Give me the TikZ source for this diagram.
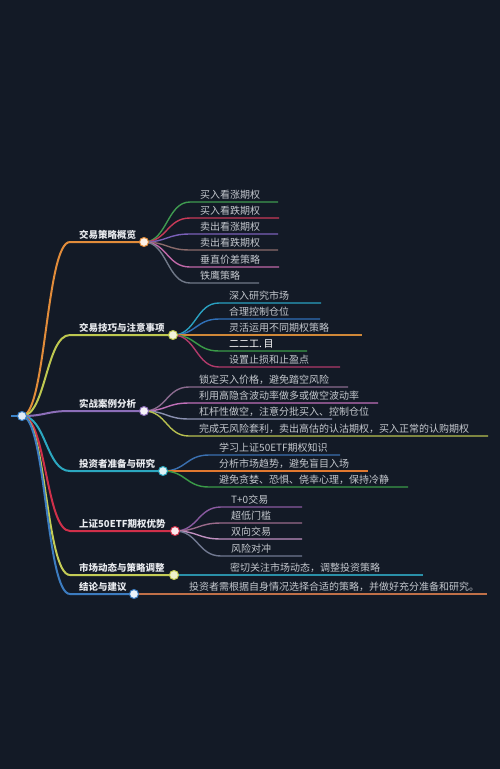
\documentclass[tikz,border=0pt]{standalone}
\usepackage{fontspec}
\setmainfont{Noto Sans CJK SC}
\usetikzlibrary{calc}
\definecolor{bgc}{RGB}{19,26,38}
\definecolor{labelc}{RGB}{232,234,238}
\definecolor{leafc}{RGB}{196,200,206}
\definecolor{cA}{RGB}{226,140,58}
\definecolor{cB}{RGB}{190,200,80}
\definecolor{cC}{RGB}{140,110,184}
\definecolor{cD}{RGB}{44,168,192}
\definecolor{cE}{RGB}{208,48,74}
\definecolor{cF}{RGB}{196,204,86}
\definecolor{cG}{RGB}{60,124,192}
\definecolor{cR}{RGB}{58,130,200}
% leaf colours
\definecolor{lA1}{RGB}{63,154,80}
\definecolor{lA2}{RGB}{200,58,88}
\definecolor{lA3}{RGB}{122,96,184}
\definecolor{lA4}{RGB}{138,106,106}
\definecolor{lA5}{RGB}{192,104,168}
\definecolor{lA6}{RGB}{112,120,136}
\definecolor{lB1}{RGB}{42,160,192}
\definecolor{lB2}{RGB}{48,112,184}
\definecolor{lB3}{RGB}{208,136,56}
\definecolor{lB4}{RGB}{58,154,72}
\definecolor{lB5}{RGB}{176,58,106}
\definecolor{lC1}{RGB}{138,106,142}
\definecolor{lC2}{RGB}{192,112,184}
\definecolor{lC3}{RGB}{138,144,176}
\definecolor{lC4}{RGB}{184,192,80}
\definecolor{lD1}{RGB}{58,112,176}
\definecolor{lD2}{RGB}{224,120,48}
\definecolor{lD3}{RGB}{58,154,72}
\definecolor{lE1}{RGB}{138,90,160}
\definecolor{lE2}{RGB}{154,106,138}
\definecolor{lE3}{RGB}{192,144,192}
\definecolor{lE4}{RGB}{112,120,144}
\definecolor{lF1}{RGB}{42,144,168}
\definecolor{lG1}{RGB}{192,112,72}
\tikzset{
  lbl/.style={anchor=base west, inner sep=0pt, font=\fontsize{9.5}{11}\selectfont\bfseries, text=labelc},
  lf/.style={anchor=base west, inner sep=0pt, font=\fontsize{10}{11}\selectfont, text=leafc},
  dot/.style={circle, minimum size=9pt, inner sep=0pt, line width=1pt},
  mainline/.style={line width=2pt},
  leafline/.style={line width=1.4pt},
}
\newcommand\mleaf[7]{%
  \coordinate (#1s) at (#3,#5);
  \coordinate (#1e) at (#4,#5);
  \coordinate (#1m) at ($(#2)!.5!(#1s)$);
  \draw[leafline,#6] (#2) .. controls (#1m |- #2) and (#1m |- #1s) .. (#1s) -- (#1e);
  \node[lf] (#1t) at ([xshift=10pt,yshift=3.5pt]#1s) {#7};
}
\newcommand\mbranch[6]{% #1 name, #2 y, #3 circle x, #4 colour, #5 text
  \coordinate (#1) at (#3,#2);
  \coordinate (#1s) at (70,#2);
  \coordinate (#1m) at ($(root)!.5!(#1s)$);
  \draw[mainline,#4] (root) .. controls (#1m |- root) and (#1m |- #1s) .. (#1s) -- (#1);
  \node[lbl] (#1t) at ([xshift=9pt,yshift=3.5pt]#1s) {#5};
}
\begin{document}
\begin{tikzpicture}[x=1pt,y=-1pt]
\fill[bgc] (0,0) rectangle (500,769);
\useasboundingbox (0,0) rectangle (500,769);
\coordinate (root) at (22,416);
\coordinate (rs) at (11,416);
\draw[line width=2.4pt,cR] (rs) -- (root);
% main branches
\mbranch{b1}{242}{144}{cA}{交易策略概览}{}
\mbranch{b2}{335}{173}{cB}{交易技巧与注意事项}{}
\mbranch{b3}{411}{144}{cC}{实战案例分析}{}
\mbranch{b4}{471}{163}{cD}{投资者准备与研究}{}
\mbranch{b5}{531}{175}{cE}{上证50ETF期权优势}{}
\mbranch{b6}{575}{174}{cF}{市场动态与策略调整}{}
\mbranch{b7}{594}{134}{cG}{结论与建议}{}
% leaves of branch 1
\mleaf{a1}{b1}{190}{278}{202}{lA1}{买入看涨期权}
\mleaf{a2}{b1}{190}{279}{218}{lA2}{买入看跌期权}
\mleaf{a3}{b1}{190}{278}{234}{lA3}{卖出看涨期权}
\mleaf{a4}{b1}{190}{278}{250}{lA4}{卖出看跌期权}
\mleaf{a5}{b1}{190}{279}{267}{lA5}{垂直价差策略}
\mleaf{a6}{b1}{190}{259}{283}{lA6}{铁鹰策略}
% leaves of branch 2
\mleaf{e1}{b2}{219}{321}{303}{lB1}{深入研究市场}
\mleaf{e2}{b2}{219}{320}{319}{lB2}{合理控制仓位}
\mleaf{e3}{b2}{219}{362}{335}{lB3}{灵活运用不同期权策略}
\mleaf{e4}{b2}{219}{307}{351}{lB4}{\textcolor{white}{二二工.\,目}}
\mleaf{e5}{b2}{219}{340}{367}{lB5}{设置止损和止盈点}
% leaves of branch 3
\mleaf{f1}{b3}{189}{348}{387}{lC1}{锁定买入价格，避免踏空风险}
\mleaf{f2}{b3}{189}{378}{403}{lC2}{利用高隐含波动率做多或做空波动率}
\mleaf{f3}{b3}{189}{332}{419}{lC3}{杠杆性做空，注意分批买入、控制仓位}
\mleaf{f4}{b3}{189}{488}{436}{lC4}{完成无风险套利，卖出高估的认沽期权，买入正常的认购期权}
% leaves of branch 4
\mleaf{g1}{b4}{209}{340}{455}{lD1}{学习上证50ETF期权知识}
\mleaf{g2}{b4}{209}{368}{471}{lD2}{分析市场趋势，避免盲目入场}
\mleaf{g3}{b4}{209}{408}{487}{lD3}{避免贪婪、恐惧、侥幸心理，保持冷静}
% leaves of branch 5
\mleaf{h1}{b5}{221}{302}{507}{lE1}{T+0交易}
\mleaf{h2}{b5}{221}{302}{523}{lE2}{超低门槛}
\mleaf{h3}{b5}{221}{302}{539}{lE3}{双向交易}
\mleaf{h4}{b5}{221}{302}{556}{lE4}{风险对冲}
% leaves of branches 6 and 7
\mleaf{k1}{b6}{220}{423}{575}{lF1}{密切关注市场动态，调整投资策略}
\mleaf{m1}{b7}{179}{487}{594}{lG1}{投资者需根据自身情况选择合适的策略，并做好充分准备和研究。}
% circles
\node[dot,draw=cR,fill=cR!15!white] (d0) at (root) {};
\node[dot,draw=cA,fill=cA!12!white] (d1) at (b1) {};
\node[dot,draw=cB,fill=cB!20!white] (d2) at (b2) {};
\node[dot,draw=cC,fill=cC!8!white] (d3) at (b3) {};
\node[dot,draw=cD,fill=cD!15!white] (d4) at (b4) {};
\node[dot,draw=cE,fill=cE!10!white] (d5) at (b5) {};
\node[dot,draw=cF,fill=cF!30!white] (d6) at (b6) {};
\node[dot,draw=cG,fill=cG!10!white] (d7) at (b7) {};
\end{tikzpicture}
\end{document}
